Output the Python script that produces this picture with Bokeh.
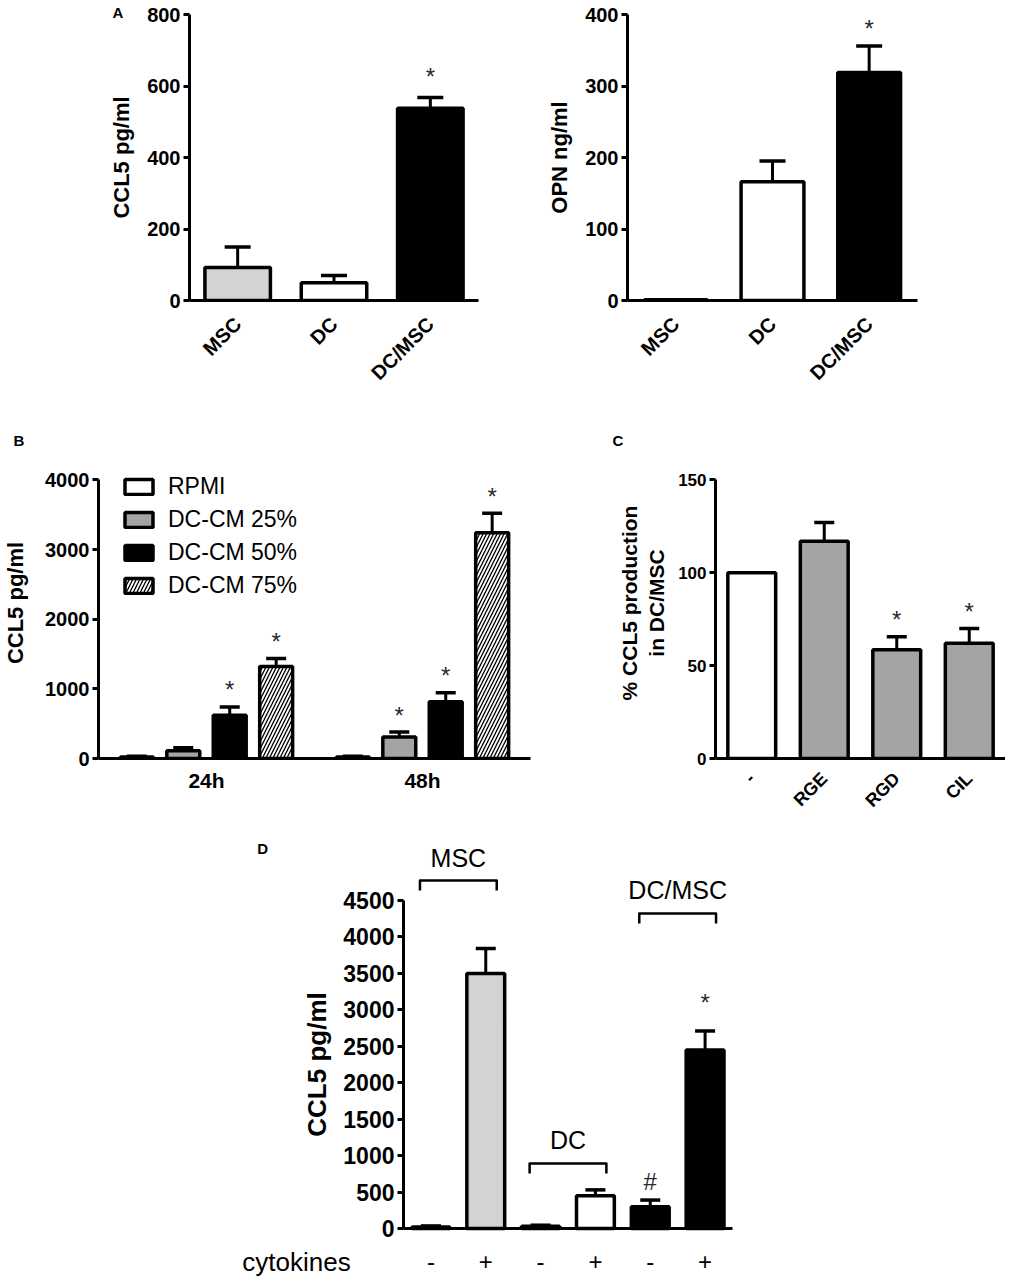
import math
from bokeh.plotting import figure
from bokeh.models import (Range1d, FixedTicker, Whisker, ColumnDataSource, Title,
                          Legend, LegendItem, TeeHead)
from bokeh.layouts import column, row
from bokeh.embed import file_html
from bokeh.resources import INLINE
from bokeh.core.properties import value

# ---------------- data ----------------
# Panel A
a_groups = ["MSC", "DC", "DC/MSC"]
a_ccl5 = [92, 50, 538]
a_ccl5_err = [58, 20, 30]
a_ccl5_sig = ["", "", "*"]
a_opn = [1, 166, 319]
a_opn_err = [0, 29, 37]
a_opn_sig = ["", "", "*"]

# Panel B
b_times = ["24h", "48h"]
b_series = ["RPMI", "DC-CM 25%", "DC-CM 50%", "DC-CM 75%"]
b_rpmi = [20, 20]
b_rpmi_err = [12, 12]
b_cm25 = [110, 310]
b_cm25_err = [45, 70]
b_cm50 = [620, 815]
b_cm50_err = [120, 130]
b_cm75 = [1320, 3240]
b_cm75_err = [115, 280]
b_sig = [["", ""], ["", "*"], ["*", "*"], ["*", "*"]]

# Panel C
c_groups = ["-", "RGE", "RGD", "CIL"]
c_pct = [100, 117, 58.5, 62]
c_pct_err = [0, 10, 7, 8]
c_sig = ["", "", "*", "*"]

# Panel D
d_cytokines = ["-", "+", "-", "+", "-", "+"]
d_cells = ["MSC", "DC", "DC/MSC"]
d_ccl5 = [20, 3500, 30, 450, 300, 2450]
d_ccl5_err = [15, 340, 15, 80, 90, 260]
d_sig = ["", "", "", "", "#", "*"]

# ---------------- style ----------------
FONT = "Liberation Sans"
LW = 3.5
LIGHT = "#d3d3d3"
GRAY = "#a4a4a7"


def style_axis(ax, tick_px, label_px):
    ax.axis_line_width = 3
    ax.axis_line_color = "black"
    ax.major_tick_line_width = 3
    ax.major_tick_in = 0
    ax.major_tick_out = 6
    ax.minor_tick_line_color = None
    ax.major_label_text_font = FONT
    ax.major_label_text_font_style = "bold"
    ax.major_label_text_font_size = tick_px
    ax.major_label_text_color = "black"
    ax.axis_label_text_font = FONT
    ax.axis_label_text_font_style = "bold"
    ax.axis_label_text_font_size = label_px
    ax.axis_label_text_color = "black"


def base_fig(w, h, bl, br, bt, bb, xr, yr, tick_px, label_px):
    p = figure(width=w, height=h, x_range=Range1d(*xr), y_range=Range1d(*yr),
               output_backend="svg", toolbar_location=None,
               min_border_left=bl, min_border_right=br, min_border_top=bt, min_border_bottom=bb)
    p.xgrid.visible = False
    p.ygrid.visible = False
    p.outline_line_color = None
    p.background_fill_color = "white"
    p.border_fill_color = "white"
    style_axis(p.xaxis[0], tick_px, label_px)
    style_axis(p.yaxis[0], tick_px, label_px)
    p.yaxis.major_label_standoff = 3
    p.xaxis.major_tick_out = 0
    return p


def add_err(p, xs, tops, errs, cap):
    keep = [i for i in range(len(xs)) if errs[i] > 0]
    src = ColumnDataSource(dict(x=[xs[i] for i in keep],
                                lower=[tops[i] for i in keep],
                                upper=[tops[i] + errs[i] for i in keep]))
    w = Whisker(source=src, base="x", lower="lower", upper="upper", dimension="height",
                line_width=3, line_color="black", lower_head=None,
                upper_head=TeeHead(size=cap, line_width=3.5, line_color="black"))
    p.add_layout(w)


def add_marks(p, xs, tops, errs, marks, yoff, which=None, size="24px"):
    keep = [i for i in range(len(xs)) if marks[i] and (which is None or marks[i] == which)]
    src = ColumnDataSource(dict(x=[xs[i] for i in keep],
                                y=[tops[i] + errs[i] for i in keep],
                                t=[marks[i] for i in keep]))
    p.text(x="x", y="y", text="t", source=src, text_align="center", text_baseline="middle",
           y_offset=yoff, text_font=value(FONT), text_font_size=size, text_color="#2a2a2a")


def panel_letter(p, t, offset, standoff):
    p.add_layout(Title(text=t, align="left", offset=offset, standoff=standoff,
                       text_font=FONT, text_font_style="bold", text_font_size="15px",
                       text_color="black"), "above")


# ---------------- Panel A left ----------------
pA1 = base_fig(520, 430, 189, 42, 14, 130, (0, 3), (0, 800), "20px", "22px")
ax_pos = [i + 0.5 for i in range(len(a_groups))]
pA1.vbar(x=ax_pos, top=a_ccl5, width=0.68, fill_color=[LIGHT, "white", "black"],
         line_color="black", line_width=LW)
add_err(pA1, ax_pos, a_ccl5, a_ccl5_err, 26)
add_marks(pA1, ax_pos, a_ccl5, a_ccl5_err, a_ccl5_sig, -21)
pA1.yaxis.ticker = FixedTicker(ticks=[0, 200, 400, 600, 800])
pA1.xaxis.ticker = FixedTicker(ticks=ax_pos)
pA1.xaxis.major_label_overrides = {p: g for p, g in zip(ax_pos, a_groups)}
pA1.xaxis.major_label_orientation = math.pi / 4
pA1.xaxis.major_label_standoff = 20
pA1.yaxis.axis_label = "CCL5 pg/ml"
pA1.yaxis.axis_label_standoff = 10
panel_letter(pA1, "A", -77, -12)

# ---------------- Panel A right ----------------
pA2 = base_fig(485, 430, 107, 88, 14, 130, (0, 3), (0, 400), "20px", "22px")
pA2.vbar(x=ax_pos, top=a_opn, width=0.65, fill_color=[LIGHT, "white", "black"],
         line_color="black", line_width=LW)
add_err(pA2, ax_pos, a_opn, a_opn_err, 26)
add_marks(pA2, ax_pos, a_opn, a_opn_err, a_opn_sig, -17)
pA2.yaxis.ticker = FixedTicker(ticks=[0, 100, 200, 300, 400])
pA2.xaxis.ticker = FixedTicker(ticks=ax_pos)
pA2.xaxis.major_label_overrides = {p: g for p, g in zip(ax_pos, a_groups)}
pA2.xaxis.major_label_orientation = math.pi / 4
pA2.xaxis.major_label_standoff = 20
pA2.yaxis.axis_label = "OPN ng/ml"
pA2.yaxis.axis_label_standoff = 10

# ---------------- Panel B (frame extended above the axis top) ----------------
pB = base_fig(600, 390, 97, 70, 15, 58, (0, 4), (0, 4464.8), "20px", "22px")
b_vals = [b_rpmi, b_cm25, b_cm50, b_cm75]
b_errs = [b_rpmi_err, b_cm25_err, b_cm50_err, b_cm75_err]
b_fill = ["white", GRAY, "black", "white"]
b_hatch = [None, None, None, "/"]
group_centers = [1 + 2 * g for g in range(len(b_times))]
items = []
for s in range(len(b_series)):
    xs = [c + (s - 1.5) * 0.43 for c in group_centers]
    kw = {}
    if b_hatch[s]:
        kw = dict(hatch_pattern=b_hatch[s], hatch_color="black", hatch_scale=7, hatch_weight=1.3)
    r = pB.vbar(x=xs, top=b_vals[s], width=0.305, fill_color=b_fill[s],
                line_color="black", line_width=LW, **kw)
    add_err(pB, xs, b_vals[s], b_errs[s], 20)
    add_marks(pB, xs, b_vals[s], b_errs[s], b_sig[s], -17)
    items.append(LegendItem(label=b_series[s], renderers=[r]))
legend = Legend(items=items, location=(23, 159), label_text_font=FONT,
                label_text_font_size="23px", label_text_color="black",
                glyph_width=35, glyph_height=19, label_height=19, spacing=6,
                padding=0, margin=0, label_standoff=12,
                border_line_color=None, background_fill_alpha=0)
pB.add_layout(legend)
pB.yaxis.ticker = FixedTicker(ticks=[0, 1000, 2000, 3000, 4000])
pB.yaxis.bounds = (0, 4000)
pB.xaxis.ticker = FixedTicker(ticks=group_centers)
pB.xaxis.major_label_overrides = {c: t for c, t in zip(group_centers, b_times)}
pB.xaxis.major_label_standoff = 10
pB.xaxis.major_label_text_font_size = "21px"
pB.yaxis.axis_label = "CCL5 pg/ml"
pB.yaxis.axis_label_standoff = 14
panel_letter(pB, "B", -85, -2)

# ---------------- Panel C (frame extended above the axis top) ----------------
pC = base_fig(405, 390, 115, 0, 15, 58, (0, 4), (0, 167.43), "17px", "21px")
cx = [i + 0.5 for i in range(len(c_groups))]
pC.vbar(x=cx, top=c_pct, width=0.66, fill_color=["white", GRAY, GRAY, GRAY],
        line_color="black", line_width=LW)
add_err(pC, cx, c_pct, c_pct_err, 20)
add_marks(pC, cx, c_pct, c_pct_err, c_sig, -17)
pC.yaxis.ticker = FixedTicker(ticks=[0, 50, 100, 150])
pC.yaxis.bounds = (0, 150)
pC.xaxis.ticker = FixedTicker(ticks=cx)
pC.xaxis.major_label_overrides = {p: g for p, g in zip(cx, c_groups)}
pC.xaxis.major_label_orientation = math.pi / 4
pC.xaxis.major_label_standoff = 17
pC.xaxis.major_label_text_font_size = "18px"
pC.yaxis.axis_label = "% CCL5 production\nin DC/MSC"
pC.yaxis.axis_label_standoff = 7
panel_letter(pC, "C", -103, -2)

# ---------------- Panel D (axes fixed inside a full-size frame) ----------------
pD = base_fig(1005, 463, 0, 0, 0, 0, (-7.350, 10.979), (-754.6, 5597.6), "23px", "26px")
dx = [i + 0.5 for i in range(len(d_ccl5))]
pD.vbar(x=dx, top=d_ccl5, width=0.69,
        fill_color=[LIGHT, LIGHT, "white", "white", "black", "black"],
        line_color="black", line_width=LW)
add_err(pD, dx, d_ccl5, d_ccl5_err, 20)
add_marks(pD, dx, d_ccl5, d_ccl5_err, d_sig, -28, which="*")
add_marks(pD, dx, d_ccl5, d_ccl5_err, d_sig, -19, which="#")
pD.yaxis.fixed_location = 0
pD.yaxis.ticker = FixedTicker(ticks=list(range(0, 4501, 500)))
pD.yaxis.bounds = (0, 4500)
pD.yaxis.axis_label = "CCL5 pg/ml"
pD.yaxis.axis_label_standoff = 8
pD.xaxis.fixed_location = 0
pD.xaxis.bounds = (0, len(d_ccl5))
pD.xaxis.ticker = FixedTicker(ticks=dx)
pD.xaxis.major_label_overrides = {p: c for p, c in zip(dx, d_cytokines)}
pD.xaxis.major_label_text_font_style = "normal"
pD.xaxis.major_label_text_font_size = "24px"
pD.xaxis.major_label_standoff = 25

# group brackets above pairs of bars
bracket_y = [4774, 892, 4322]
drop = 137
bxs, bys, lx, ly = [], [], [], []
for g in range(len(d_cells)):
    x0 = dx[2 * g] - 0.2
    x1 = dx[2 * g + 1] + 0.2
    bxs.append([x0, x0, x1, x1])
    bys.append([bracket_y[g] - drop, bracket_y[g], bracket_y[g], bracket_y[g] - drop])
    lx.append((dx[2 * g] + dx[2 * g + 1]) / 2)
    ly.append(bracket_y[g])
pD.multi_line(xs=bxs, ys=bys, line_color="black", line_width=2.5, line_join="round")
pD.text(x=lx, y=ly, text=d_cells, text_align="center", text_baseline="alphabetic",
        y_offset=-23, text_font=value(FONT), text_font_size="25px", text_color="black")
pD.text(x=[-2.94], y=[-466], text=["cytokines"], text_align="left", text_baseline="middle",
        text_font=value(FONT), text_font_size="26px", text_color="black")
pD.text(x=[-2.57], y=[5213], text=["D"], text_align="center", text_baseline="middle",
        text_font=value(FONT), text_font_style="bold", text_font_size="15px", text_color="black")

layout = column(row(pA1, pA2), row(pB, pC), pD)
open("out.html", "w").write(file_html(layout, INLINE))
